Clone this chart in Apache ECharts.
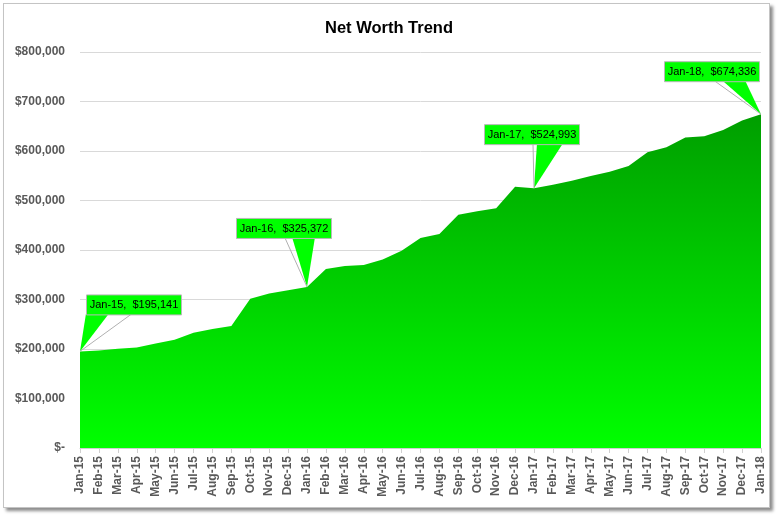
<!DOCTYPE html>
<html>
<head>
<meta charset="utf-8">
<script src="https://cdn.jsdelivr.net/npm/echarts@6/dist/echarts.min.js"></script>
<style>
html,body{margin:0;padding:0;background:#fff;width:778px;height:515px;overflow:hidden;}
#frame{position:absolute;left:3px;top:3px;width:765px;height:503px;border:1px solid #c4c4c4;box-shadow:3px 3px 3px rgba(0,0,0,0.45);background:#fff;}
#chart{position:absolute;left:0;top:0;width:778px;height:515px;}
</style>
</head>
<body>
<div id="frame"></div>
<div id="chart"></div>
<script>
const title = 'Net Worth Trend';
const months = ['Jan-15','Feb-15','Mar-15','Apr-15','May-15','Jun-15','Jul-15','Aug-15','Sep-15','Oct-15','Nov-15','Dec-15',
  'Jan-16','Feb-16','Mar-16','Apr-16','May-16','Jun-16','Jul-16','Aug-16','Sep-16','Oct-16','Nov-16','Dec-16',
  'Jan-17','Feb-17','Mar-17','Apr-17','May-17','Jun-17','Jul-17','Aug-17','Sep-17','Oct-17','Nov-17','Dec-17','Jan-18'];
const netWorth = [195141,197000,200500,203000,211000,218500,233000,240500,246500,301500,312000,318500,
  325372,361500,367500,369500,381000,398500,424000,432500,471000,478500,484500,528000,
  524993,532000,540000,549500,558000,569500,597500,607500,627500,630000,642500,661500,674336];
const yTicks = [0,100000,200000,300000,400000,500000,600000,700000,800000];
const calloutMonths = ['Jan-15','Jan-16','Jan-17','Jan-18'];
// layout of callouts relative to their point: box offset, wedge base, leader line start
const calloutLayout = [
  {bx:6, by:-57, w0:6, w1:29, g:51},
  {bx:-71, by:-69, w0:-15, w1:8, g:-22},
  {bx:-50, by:-64, w0:3, w1:29, g:-1},
  {bx:-97, by:-53, w0:-39, w1:-16, g:-46}
];

function money(v){
  if (v === 0) return '$-';
  return '$' + v.toLocaleString('en-US');
}

const chart = echarts.init(document.getElementById('chart'), null, {renderer:'canvas'});
const option = {
  backgroundColor: 'transparent',
  animation: false,
  title: {
    text: title, left: 'center', top: 15,
    textStyle: {fontFamily: 'Liberation Sans', fontSize: 16.5, fontWeight: 'bold', color: '#000'}
  },
  grid: {left: 80, right: 17, top: 52, bottom: 67},
  xAxis: {
    type: 'category', data: months, boundaryGap: false,
    axisLine: {show: true, lineStyle: {color: '#d0d0d0', width: 1}},
    axisTick: {show: true, length: 5, lineStyle: {color: '#d0d0d0'}},
    axisLabel: {rotate: 90, interval: 0, margin: 8, color: '#595959', fontFamily: 'Liberation Sans', fontSize: 12, fontWeight: 'bold'},
    splitLine: {show: false}
  },
  yAxis: {
    type: 'value', min: yTicks[0], max: yTicks[yTicks.length-1], interval: yTicks[1]-yTicks[0],
    axisLine: {show: false}, axisTick: {show: false},
    axisLabel: {margin: 15, color: '#595959', fontFamily: 'Liberation Sans', fontSize: 12, fontWeight: 'bold', formatter: money},
    splitLine: {lineStyle: {color: '#d9d9d9', width: 1}}
  },
  series: [{
    type: 'line', data: netWorth, showSymbol: false, symbol: 'none',
    lineStyle: {width: 0},
    areaStyle: {
      opacity: 1,
      color: new echarts.graphic.LinearGradient(0, 0, 0, 1, [
        {offset: 0, color: '#009e00'},
        {offset: 1, color: '#00ff00'}
      ])
    }
  }]
};
chart.setOption(option);

const elements = [];
calloutMonths.forEach(function(m, k){
  const idx = months.indexOf(m);
  const p = chart.convertToPixel({seriesIndex: 0}, [idx, netWorth[idx]]);
  const L = calloutLayout[k];
  const bx = p[0] + L.bx, by = p[1] + L.by, bw = 95, bh = 20;
  elements.push({
    type: 'polygon', z: 100,
    shape: {points: [[p[0] + L.w0, by + bh - 1], [p[0] + L.w1, by + bh - 1], [p[0], p[1]]]},
    style: {fill: '#00ff00', stroke: null}
  });
  elements.push({
    type: 'line', z: 100,
    shape: {x1: p[0] + L.g, y1: by + bh, x2: p[0], y2: p[1]},
    style: {stroke: '#b0b0b0', lineWidth: 1}
  });
  elements.push({
    type: 'rect', z: 101,
    shape: {x: bx + 0.5, y: by + 0.5, width: bw, height: bh},
    style: {fill: '#00ff00', stroke: '#b8b8b8', lineWidth: 1}
  });
  elements.push({
    type: 'text', z: 102,
    x: bx + bw / 2 + 0.5, y: by + bh / 2 + 1,
    style: {text: m + ',  ' + money(netWorth[idx]), fill: '#000', font: '11px "Liberation Sans"', align: 'center', verticalAlign: 'middle'}
  });
});
chart.setOption({graphic: {elements: elements}});
</script>
</body>
</html>
